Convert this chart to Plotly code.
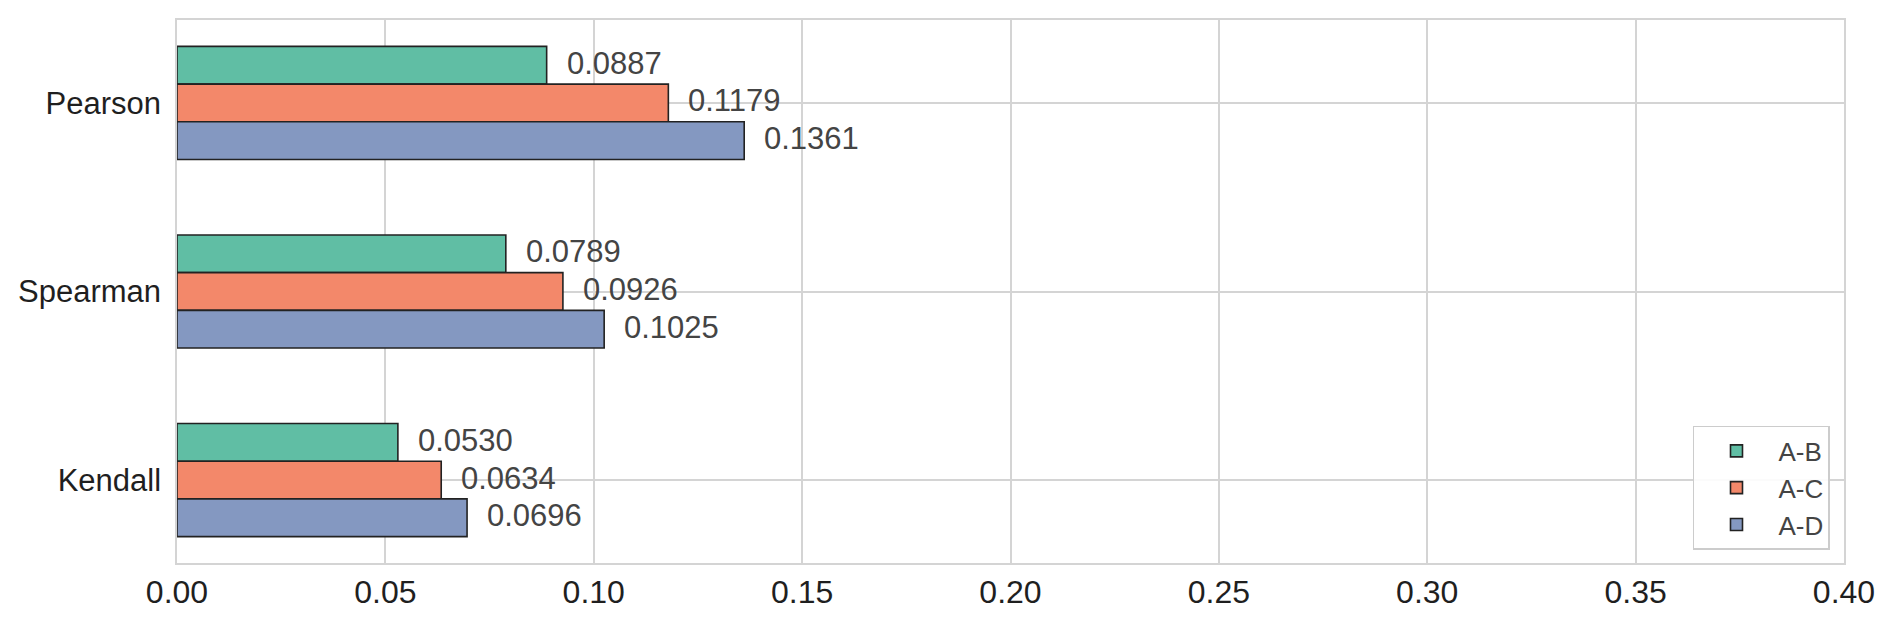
import plotly.graph_objects as go

# ------------------------------------------- Data -------------------------------------------

methods = ["Pearson", "Spearman", "Kendall"]
pairs = ["A-B", "A-C", "A-D"]
ab_values = [0.0887, 0.0789, 0.0530]
ac_values = [0.1179, 0.0926, 0.0634]
ad_values = [0.1361, 0.1025, 0.0696]
x_ticks = [0.00, 0.05, 0.10, 0.15, 0.20, 0.25, 0.30, 0.35, 0.40]

colors = ["#60bea4", "#f3886a", "#8498c1"]
series = [ab_values, ac_values, ad_values]

# ------------------------------------------- Figure -------------------------------------------

positions = list(range(len(methods)))
bar_width = 0.2

fig = go.Figure()
for i, (name, values) in enumerate(zip(pairs, series)):
    fig.add_trace(go.Bar(
        x=values, y=positions, orientation="h", name=name,
        marker=dict(color=colors[i], line=dict(color="#222222", width=1.6)),
    ))

    # Value labels next to each bar
    for pos, val in zip(positions, values):
        fig.add_annotation(
            x=val, y=pos + (i - 1) * bar_width, text="{:.4f}".format(val),
            showarrow=False, xanchor="left", yanchor="middle", xshift=18, yshift=2,
            font=dict(family="Liberation Sans, Arial", size=31, color="#444444"),
        )

# The page body has an 8px margin, so the figure is sized to fit inside it
fig.update_layout(
    width=1876, height=606,
    margin=dict(l=169, r=40, t=12, b=51),
    plot_bgcolor="white", paper_bgcolor="white",
    barmode="group", bargap=0.4, bargroupgap=0,
    font=dict(family="Liberation Sans, Arial", color="#262626"),
    legend=dict(
        x=0.9916, y=0.024, xanchor="right", yanchor="bottom",
        bgcolor="rgba(255,255,255,0.9)", bordercolor="#cccccc", borderwidth=1.5,
        font=dict(size=26, color="#444444"), itemwidth=74, tracegroupgap=0,
    ),
)

fig.update_xaxes(
    range=[0, 0.4], tickvals=x_ticks, ticktext=["{:.2f}".format(t) for t in x_ticks],
    showgrid=True, gridcolor="#d4d4d4", gridwidth=1.5,
    showline=True, linecolor="#d4d4d4", linewidth=1.5, mirror=True,
    zeroline=False, ticks="", automargin=False,
    tickfont=dict(size=32, color="#1f1f1f"),
)
fig.update_yaxes(
    range=[2.44, -0.44], tickvals=positions, ticktext=methods,
    showgrid=True, gridcolor="#d4d4d4", gridwidth=1.5,
    showline=True, linecolor="#d4d4d4", linewidth=1.5, mirror=True,
    zeroline=False, ticks="", ticklabelstandoff=8, automargin=False,
    tickfont=dict(size=31, color="#1f1f1f"),
)

fig.write_html("out.html")
